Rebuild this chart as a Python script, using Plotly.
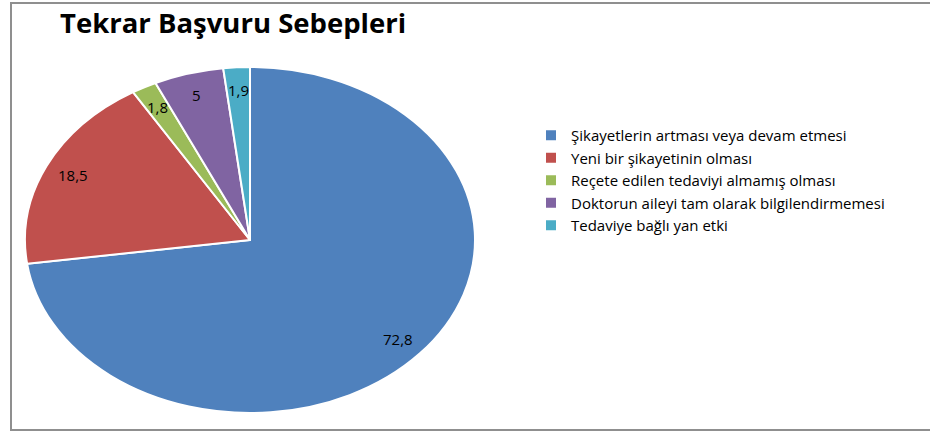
import math
import plotly.graph_objects as go

labels = [
    "Şikayetlerin artması veya devam etmesi",
    "Yeni bir şikayetinin olması",
    "Reçete edilen tedaviyi almamış olması",
    "Doktorun aileyi tam olarak bilgilendirmemesi",
    "Tedaviye bağlı yan etki",
]
values = [72.8, 18.5, 1.8, 5.0, 1.9]
colors = ["#4F81BD", "#C0504D", "#9BBB59", "#8064A2", "#4BACC6"]


def fmt(v):
    return ("%g" % v).replace(".", ",")


text_labels = [fmt(v) for v in values]

W, H = 930, 432
# pie placement (pixels) and horizontal stretch to get Excel's oval pie
PIE_CX, PIE_CY, PIE_R = 250, 240, 173
SX = 225 / 173
LABEL_R = 0.87

dom_x = [(PIE_CX - PIE_R) / W, (PIE_CX + PIE_R) / W]
dom_y = [(H - PIE_CY - PIE_R) / H, (H - PIE_CY + PIE_R) / H]

fig = go.Figure()
fig.add_trace(go.Pie(
    labels=labels,
    values=values,
    textinfo="none",
    sort=False,
    direction="clockwise",
    rotation=0,
    marker=dict(colors=colors, line=dict(color="white", width=2)),
    hoverinfo="label+value",
    domain=dict(x=dom_x, y=dom_y),
))

# data labels placed along each slice's mid-angle (computed from the values)
total = sum(values)
cum = 0.0
annotations = []
cxf = (dom_x[0] + dom_x[1]) / 2
cyf = (dom_y[0] + dom_y[1]) / 2
rxf = (dom_x[1] - dom_x[0]) / 2 * SX
ryf = (dom_y[1] - dom_y[0]) / 2
for v, t in zip(values, text_labels):
    mid = (cum + v / 2) / total * 2 * math.pi
    cum += v
    annotations.append(dict(
        xref="paper", yref="paper",
        x=cxf + LABEL_R * rxf * math.sin(mid),
        y=cyf + LABEL_R * ryf * math.cos(mid),
        text=t, showarrow=False,
        xanchor="center", yanchor="middle",
        font=dict(family="Open Sans", size=15, color="black"),
    ))

fig.update_layout(
    width=W, height=H,
    margin=dict(l=0, r=0, t=0, b=0),
    paper_bgcolor="white",
    plot_bgcolor="white",
    font=dict(family="Open Sans", color="black"),
    title=dict(
        text="<b>Tekrar Başvuru Sebepleri</b>",
        font=dict(family="Open Sans", size=27.5, color="black"),
        x=60 / W, xanchor="left",
        y=1 - 23 / H, yanchor="middle",
    ),
    legend=dict(
        x=531 / W, xanchor="left",
        y=1 - 119 / H, yanchor="top",
        font=dict(family="Open Sans", size=15, color="black"),
        itemwidth=30,
        tracegroupgap=0,
        bgcolor="rgba(0,0,0,0)",
    ),
    annotations=annotations,
    shapes=[dict(
        type="rect", xref="paper", yref="paper",
        x0=11 / W, x1=1.01, y0=1 - 430 / H, y1=1 - 3 / H,
        line=dict(color="#8F8F8F", width=2),
        fillcolor="rgba(0,0,0,0)",
    )],
)

post = """
document.body.style.margin = '0';
document.body.style.overflow = 'hidden';
var gd = document.getElementById('{plot_id}');
function stretchPie() {
  if (!gd || !gd.calcdata || !gd.calcdata[0]) return;
  var cx = gd.calcdata[0][0].cx;
  gd.querySelectorAll('.pielayer path.surface').forEach(function (p) {
    p.setAttribute('transform', 'translate(' + cx + ',0) scale(%f,1) translate(' + (-cx) + ',0)');
    p.style.vectorEffect = 'non-scaling-stroke';
  });
}
stretchPie();
if (gd && gd.on) { gd.on('plotly_afterplot', stretchPie); }
""" % SX

fig.write_html("out.html", post_script=post, config=dict(displayModeBar=False))
